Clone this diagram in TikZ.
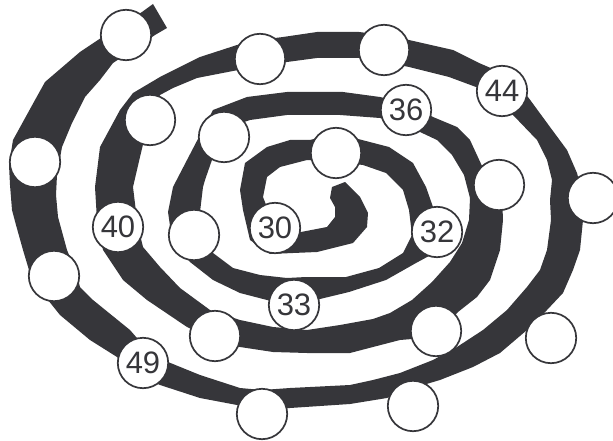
\documentclass[tikz,border=0pt]{standalone}
\usepackage{fontspec}
\setmainfont{Liberation Sans}
\definecolor{band}{RGB}{54,54,58}
\begin{document}
\begin{tikzpicture}[x=1pt,y=-1pt,
  spot/.style={circle,draw=band,line width=1.7pt,fill=white,minimum size=50.4pt,inner sep=0pt,font=\fontsize{31}{31}\selectfont,text=band}]
\useasboundingbox (0,0) rectangle (613,441);
% spiral band: outer edge, then inner edge back
\fill[band] (153,4) -- (142,12) -- (110,32) -- (80,52) -- (45,82) -- (35,100) -- (13,140) -- (9,165) -- (10,185) -- (12,210) -- (16,225) -- (23,250) -- (32,280) -- (48,300) -- (60,315) -- (78,330) -- (90,340) -- (117,357) -- (140,375) -- (160,385) -- (200,398) -- (237,405) -- (262,410) -- (290,408) -- (320,406) -- (350,404) -- (387,398) -- (413,388) -- (440,380) -- (473,367) -- (500,353) -- (527,330) -- (547,310) -- (563,293) -- (573,270) -- (580,250) -- (583,220) -- (584,200) -- (577,173) -- (567,150) -- (550,127) -- (528,97) -- (500,72) -- (479,63) -- (453,50) -- (409,40) -- (384,35) -- (359,32) -- (317,32) -- (283,37) -- (260,40) -- (237,45) -- (200,57) -- (160,77) -- (133,93) -- (120,110) -- (100,147) -- (95,187) -- (97,220) -- (100,235) -- (103,250) -- (123,280) -- (147,300) -- (187,327) -- (215,340) -- (240,347) -- (273,352) -- (307,353) -- (350,353) -- (373,347) -- (400,340) -- (436,337) -- (458,312) -- (477,297) -- (490,280) -- (500,250) -- (503,220) -- (502,195) -- (482,166) -- (470,140) -- (457,127) -- (433,117) -- (406,103) -- (380,97) -- (343,92) -- (287,92) -- (247,97) -- (213,110) -- (200,135) -- (187,160) -- (173,187) -- (168,212) -- (172,240) -- (190,262) -- (213,280) -- (240,293) -- (267,300) -- (294,305) -- (320,299) -- (349,292) -- (386,280) -- (416,263) -- (440,250) -- (445,225) -- (433,207) -- (426,187) -- (413,163) -- (389,147) -- (362,140) -- (336,133) -- (310,140) -- (290,140) -- (267,147) -- (245,163) -- (240,190) -- (243,210) -- (250,240) -- (270,254) -- (293,253) -- (317,252) -- (353,243) -- (367,227) -- (368,213) -- (360,197) -- (345,182)
  -- (332,187) -- (330,198) -- (335,207) -- (335,217) -- (327,227) -- (301,232) -- (270,215) -- (263,197) -- (267,177) -- (280,167) -- (307,160) -- (336,162) -- (363,165) -- (386,173) -- (403,190) -- (409,210) -- (412,235) -- (403,253) -- (379,268) -- (346,277) -- (306,277) -- (287,278) -- (260,275) -- (233,268) -- (213,253) -- (205,240) -- (200,212) -- (203,187) -- (205,180) -- (213,157) -- (235,125) -- (250,120) -- (287,115) -- (340,115) -- (380,118) -- (406,126) -- (420,132) -- (437,140) -- (452,155) -- (464,175) -- (470,198) -- (469,220) -- (462,243) -- (450,262) -- (432,282) -- (412,300) -- (390,313) -- (373,319) -- (340,325) -- (307,330) -- (273,327) -- (240,320) -- (210,310) -- (180,288) -- (160,267) -- (143,247) -- (140,235) -- (137,220) -- (133,187) -- (140,157) -- (150,115) -- (160,95) -- (173,88) -- (197,78) -- (233,71) -- (260,66) -- (287,62) -- (317,58) -- (359,58) -- (384,62) -- (409,67) -- (449,77) -- (476,87) -- (498,100) -- (513,115) -- (537,140) -- (547,160) -- (552,180) -- (550,200) -- (551,220) -- (547,250) -- (540,270) -- (527,287) -- (507,310) -- (483,330) -- (457,347) -- (433,360) -- (400,373) -- (373,380) -- (350,385) -- (290,388) -- (262,390) -- (240,388) -- (200,375) -- (168,362) -- (150,352) -- (137,338) -- (130,330) -- (93,300) -- (80,287) -- (76,272) -- (67,250) -- (58,217) -- (56,195) -- (57,175) -- (62,147) -- (72,123) -- (85,97) -- (100,80) -- (113,63) -- (130,52) -- (155,35) -- (167,28) -- cycle;
% spots along the band
\node[spot] (c1) at (126,35) {};
\node[spot] (c2) at (35,162) {};
\node[spot] (c3) at (54,276) {};
\node[spot] (c4) at (143,363) {49};
\node[spot] (c5) at (262,414) {};
\node[spot] (c6) at (413,406) {};
\node[spot] (c7) at (551,338) {};
\node[spot] (c8) at (593,198) {};
\node[spot] (c9) at (502,91) {44};
\node[spot] (c10) at (384,50) {};
\node[spot] (c11) at (260,59) {};
\node[spot] (c12) at (150,120) {};
\node[spot] (c13) at (118,227) {40};
\node[spot] (c14) at (215,336) {};
\node[spot] (c15) at (436,331) {};
\node[spot] (c16) at (499,185) {};
\node[spot] (c17) at (406,110) {36};
\node[spot] (c18) at (224,137) {};
\node[spot] (c19) at (194,235) {};
\node[spot] (c20) at (294,305) {33};
\node[spot] (c21) at (437,232) {32};
\node[spot] (c22) at (336,153) {};
\node[spot] (c23) at (275,228) {30};
\end{tikzpicture}
\end{document}
